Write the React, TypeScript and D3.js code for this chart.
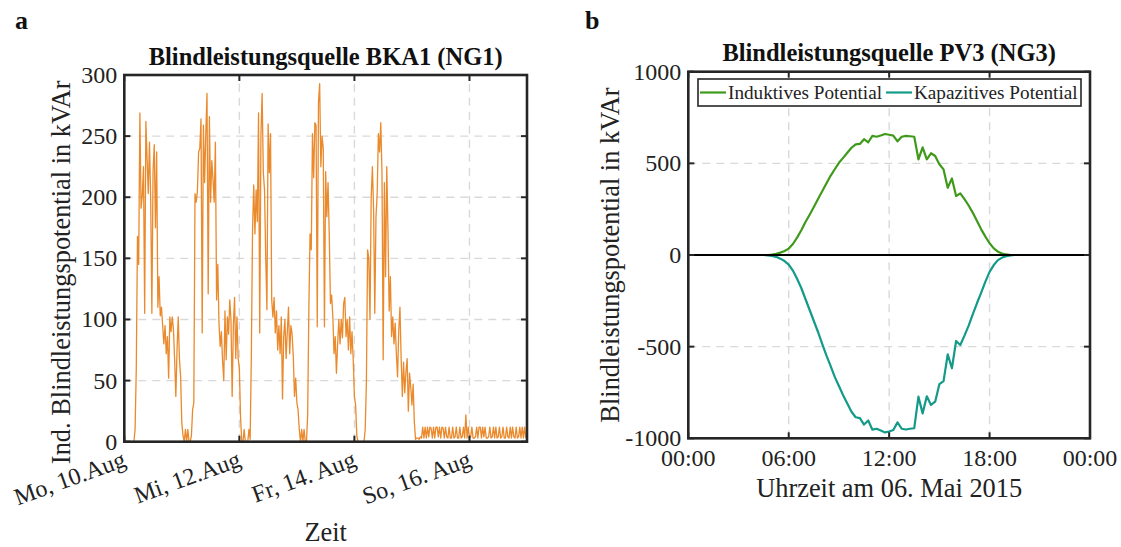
import * as d3 from 'd3';

// BKA1 (NG1): half-hourly reactive power potential in kVAr, 10.–16. Aug 2015
const day10Aug = [0, 0, 0, 0, 0, 0, 0, 0, 0, 10, 60, 168, 145, 269, 191, 201, 225, 105, 262, 232, 203, 245, 200, 105,
  222, 243, 175, 237, 110, 135, 103, 110, 95, 80, 95, 72, 86, 52, 102, 90, 102, 92, 67, 37, 75, 102, 68, 53];
const day11Aug = [15, 5, 0, 10, 0, 10, 0, 0, 5, 26, 32, 203, 196, 205, 237, 240, 264, 89, 259, 212, 252, 285, 121, 266,
  196, 230, 215, 196, 245, 116, 145, 97, 78, 90, 66, 50, 107, 67, 102, 88, 116, 100, 37, 95, 118, 68, 102, 68];
const day12Aug = [60, 20, 0, 0, 10, 0, 0, 0, 10, 2, 70, 173, 210, 170, 206, 180, 269, 89, 250, 285, 220, 206, 151, 108,
  260, 220, 252, 116, 102, 118, 89, 107, 75, 95, 72, 102, 35, 86, 100, 68, 90, 110, 72, 95, 88, 70, 37, 52];
const day13Aug = [32, 26, 10, 0, 10, 0, 10, 0, 0, 22, 110, 170, 157, 252, 216, 261, 259, 94, 277, 293, 225, 250, 240, 94,
  221, 184, 212, 170, 113, 120, 102, 72, 86, 56, 80, 100, 80, 100, 85, 113, 118, 86, 100, 75, 102, 72, 90, 67];
const day14Aug = [37, 30, 5, 0, 0, 0, 0, 0, 0, 10, 48, 157, 150, 100, 200, 225, 190, 105, 184, 203, 252, 237, 261, 220,
  67, 212, 135, 225, 173, 107, 135, 86, 102, 80, 97, 72, 53, 91, 110, 68, 37, 65, 40, 57, 68, 25, 56, 45];
const day15Aug = [30, 47, 16, 2, 3, 3, 2, 4, 3, 12, 3, 12, 3, 12, 4, 12, 11, 3, 12, 3, 12, 12, 4, 12,
  3, 12, 11, 3, 12, 4, 3, 12, 3, 3, 12, 3, 4, 12, 3, 3, 12, 3, 4, 12, 3, 22, 3, 12];
const day16Aug = [3, 4, 12, 3, 3, 4, 12, 3, 12, 12, 3, 12, 4, 12, 3, 3, 4, 12, 3, 4, 12, 3, 12, 3,
  4, 12, 3, 4, 12, 3, 3, 12, 4, 3, 12, 3, 12, 4, 3, 12, 3, 4, 12, 3, 12, 3, 12, 3];
const bkaValues = [...day10Aug, ...day11Aug, ...day12Aug, ...day13Aug, ...day14Aug, ...day15Aug, ...day16Aug];
const bkaStart = new Date(2015, 7, 10);
const bkaEnd = new Date(2015, 7, 17);
const bkaTickDates = [new Date(2015, 7, 10), new Date(2015, 7, 12), new Date(2015, 7, 14), new Date(2015, 7, 16)];
const bkaTickLabels = ['Mo, 10.Aug', 'Mi, 12.Aug', 'Fr, 14. Aug', 'So, 16. Aug'];
const bkaYTicks = [0, 50, 100, 150, 200, 250, 300];

// PV3 (NG3): 15-minute values on 06. Mai 2015, 00:00 .. 24:00
const pvInduktiv = [0, 0, 0, 0, 0, 0, 0, 0, 0, 0, 0, 0, 0, 0, 0, 0, 0, 0, 0, 0,
  2, 6, 13, 22, 35, 60, 95, 135, 180, 220, 262, 305, 348, 390, 432, 468, 503, 530, 558, 585,
  604, 606, 632, 615, 650, 645, 652, 660, 656, 651, 620, 645, 650, 648, 645, 522, 587, 522, 555, 540,
  495, 467, 367, 418, 322, 336, 305, 270, 230, 185, 140, 100, 64, 36, 18, 8, 3,
  0, 0, 0, 0, 0, 0, 0, 0, 0, 0, 0, 0, 0, 0, 0, 0, 0, 0, 0, 0];
const pvKapazitiv = [0, 0, 0, 0, 0, 0, 0, 0, 0, 0, 0, 0, 0, 0, 0, 0, 0, 0, 0,
  -2, -5, -10, -20, -33, -52, -85, -130, -180, -240, -300, -360, -420, -485, -548, -605, -665, -715, -765, -810, -855,
  -885, -890, -925, -903, -953, -948, -958, -968, -963, -955, -913, -948, -952, -948, -945, -773, -864, -771, -818, -800,
  -705, -688, -542, -618, -469, -491, -440, -385, -323, -262, -205, -145, -92, -55, -28, -14, -6, -2,
  0, 0, 0, 0, 0, 0, 0, 0, 0, 0, 0, 0, 0, 0, 0, 0, 0, 0, 0];
const pvStart = new Date(2015, 4, 6);
const pvEnd = new Date(2015, 4, 7);
const pvTickHours = [0, 6, 12, 18, 24];
const pvTickLabels = ['00:00', '06:00', '12:00', '18:00', '00:00'];
const pvYTicks = [-1000, -500, 0, 500, 1000];
const pvSeries = [
  { name: 'Induktives Potential', values: pvInduktiv, color: '#3f9a1b' },
  { name: 'Kapazitives Potential', values: pvKapazitiv, color: '#149a88' },
];

const FONT = '"Liberation Serif", "Times New Roman", serif';
const AXIS = '#262626';
const GRID = '#d9d9d9';

export default function App() {
  // left panel
  const lx = d3.scaleTime().domain([bkaStart, bkaEnd]).range([124.3, 527]);
  const ly = d3.scaleLinear().domain([0, 300]).range([441.7, 75]);
  const bkaLine = d3.line<number>()
    .x((_, i) => lx(d3.timeMinute.offset(bkaStart, 30 * i)))
    .y(d => ly(d));

  // right panel
  const rx = d3.scaleTime().domain([pvStart, pvEnd]).range([688.3, 1090]);
  const ry = d3.scaleLinear().domain([-1000, 1000]).range([438.3, 71.7]);
  const pvLine = d3.line<number>()
    .x((_, i) => rx(d3.timeMinute.offset(pvStart, 15 * i)))
    .y(d => ry(d));

  const [lx0, lx1] = lx.range();
  const [ly0, ly1] = ly.range();
  const [rx0, rx1] = rx.range();
  const [ry0, ry1] = ry.range();
  const tk = 6;

  return (
    <svg width={1121} height={547} style={{ position: 'absolute', left: 0, top: 0, background: '#fff' }}
      fontFamily={FONT}>
      <rect width={1121} height={547} fill="#fff" />

      {/* ---------- panel a ---------- */}
      <text x={15} y={29} fontSize={26} fontWeight="bold" fill="#111">a</text>
      <text x={(lx0 + lx1) / 2} y={65} fontSize={24.5} fontWeight="bold" textAnchor="middle" fill="#111">
        Blindleistungsquelle BKA1 (NG1)
      </text>
      <g>
        {bkaYTicks.filter(v => v > 0 && v < 300).map(v => (
          <line key={'lg' + v} x1={lx0} x2={lx1} y1={ly(v)} y2={ly(v)} stroke={GRID} strokeWidth={1.4} strokeDasharray="8,6" />
        ))}
        {bkaTickDates.slice(1).map((d, i) => (
          <line key={'lgx' + i} x1={lx(d)} x2={lx(d)} y1={ly0} y2={ly1} stroke={GRID} strokeWidth={1.4} strokeDasharray="8,6" />
        ))}
      </g>
      <path d={bkaLine(bkaValues) ?? ''} fill="none" stroke="#ea8a2c" strokeWidth={1.3} strokeLinejoin="round" />
      <g stroke={AXIS} strokeWidth={2}>
        {bkaYTicks.map(v => (
          <g key={'lt' + v}>
            <line x1={lx0} x2={lx0 + tk} y1={ly(v)} y2={ly(v)} />
            <line x1={lx1} x2={lx1 - tk} y1={ly(v)} y2={ly(v)} />
          </g>
        ))}
        {bkaTickDates.map((d, i) => (
          <g key={'ltx' + i}>
            <line x1={lx(d)} x2={lx(d)} y1={ly0} y2={ly0 - tk} />
            <line x1={lx(d)} x2={lx(d)} y1={ly1} y2={ly1 + tk} />
          </g>
        ))}
      </g>
      <rect x={lx0} y={ly1} width={lx1 - lx0} height={ly0 - ly1} fill="none" stroke={AXIS} strokeWidth={2.6} />
      {bkaYTicks.map(v => (
        <text key={'ll' + v} x={lx0 - 7} y={ly(v) + 8} fontSize={24} textAnchor="end" fill="#222">{v}</text>
      ))}
      {bkaTickDates.map((d, i) => (
        <text key={'llx' + i} transform={`translate(${lx(d) + 3},${ly0 + 24}) rotate(-20)`}
          fontSize={24} textAnchor="end" fill="#222">{bkaTickLabels[i]}</text>
      ))}
      <text x={(lx0 + lx1) / 2} y={541} fontSize={26.4} textAnchor="middle" fill="#222">Zeit</text>
      <text transform={`translate(70,${(ly0 + ly1) / 2 + 14}) rotate(-90)`} fontSize={26.4} textAnchor="middle" fill="#222">
        Ind. Blindleistungspotential in kVAr
      </text>

      {/* ---------- panel b ---------- */}
      <text x={585} y={29} fontSize={26} fontWeight="bold" fill="#111">b</text>
      <text x={(rx0 + rx1) / 2} y={61} fontSize={24.5} fontWeight="bold" textAnchor="middle" fill="#111">
        Blindleistungsquelle PV3 (NG3)
      </text>
      <g>
        {pvYTicks.filter(v => v === 500 || v === -500).map(v => (
          <line key={'rg' + v} x1={rx0} x2={rx1} y1={ry(v)} y2={ry(v)} stroke={GRID} strokeWidth={1.4} strokeDasharray="8,6" />
        ))}
        {pvTickHours.slice(1, 4).map(h => (
          <line key={'rgx' + h} x1={rx(d3.timeHour.offset(pvStart, h))} x2={rx(d3.timeHour.offset(pvStart, h))}
            y1={ry0} y2={ry1} stroke={GRID} strokeWidth={1.4} strokeDasharray="8,6" />
        ))}
      </g>
      {pvSeries.map(s => (
        <path key={s.name} d={pvLine(s.values) ?? ''} fill="none" stroke={s.color} strokeWidth={2.2} strokeLinejoin="round" />
      ))}
      <line x1={rx0} x2={rx1} y1={ry(0)} y2={ry(0)} stroke="#000" strokeWidth={2} />
      <g stroke={AXIS} strokeWidth={2}>
        {pvYTicks.map(v => (
          <g key={'rt' + v}>
            <line x1={rx0} x2={rx0 + tk} y1={ry(v)} y2={ry(v)} />
            <line x1={rx1} x2={rx1 - tk} y1={ry(v)} y2={ry(v)} />
          </g>
        ))}
        {pvTickHours.map(h => {
          const x = rx(d3.timeHour.offset(pvStart, h));
          return (
            <g key={'rtx' + h}>
              <line x1={x} x2={x} y1={ry0} y2={ry0 - tk} />
              <line x1={x} x2={x} y1={ry1} y2={ry1 + tk} />
            </g>
          );
        })}
      </g>
      <rect x={rx0} y={ry1} width={rx1 - rx0} height={ry0 - ry1} fill="none" stroke={AXIS} strokeWidth={2.6} />
      {pvYTicks.map(v => (
        <text key={'rl' + v} x={rx0 - 7} y={ry(v) + 8} fontSize={24} textAnchor="end" fill="#222">{v}</text>
      ))}
      {pvTickHours.map((h, i) => (
        <text key={'rlx' + h} x={rx(d3.timeHour.offset(pvStart, h))} y={ry0 + 28} fontSize={24} textAnchor="middle" fill="#222">
          {pvTickLabels[i]}
        </text>
      ))}
      <text x={(rx0 + rx1) / 2} y={497} fontSize={26.4} textAnchor="middle" fill="#222">Uhrzeit am 06. Mai 2015</text>
      <text transform={`translate(619,${(ry0 + ry1) / 2}) rotate(-90)`} fontSize={26.4} textAnchor="middle" fill="#222">
        Blindleistungspotential in kVAr
      </text>

      {/* legend */}
      <rect x={698} y={79} width={383} height={27} fill="#fff" stroke={AXIS} strokeWidth={1.6} />
      {pvSeries.map((s, i) => {
        const x0 = i === 0 ? 700 : 886;
        return (
          <g key={'lg' + s.name}>
            <line x1={x0} x2={x0 + 26} y1={92.5} y2={92.5} stroke={s.color} strokeWidth={2.2} />
            <text x={x0 + 28} y={99} fontSize={19.2} fill="#222">{s.name}</text>
          </g>
        );
      })}
    </svg>
  );
}
